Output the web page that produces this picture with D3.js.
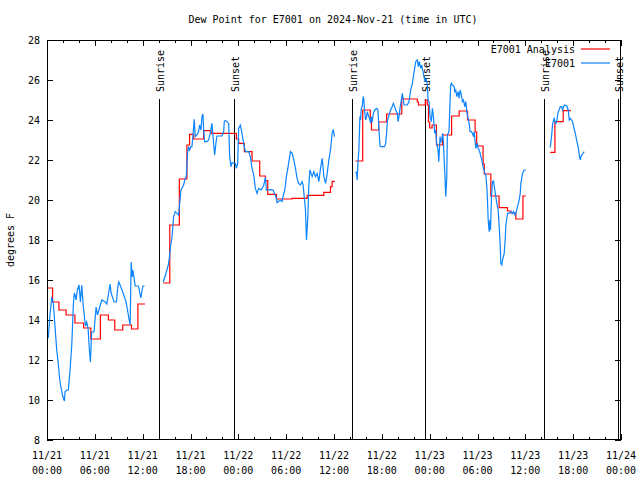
<!DOCTYPE html>
<html>
<head>
<meta charset="utf-8">
<script src="https://cdn.jsdelivr.net/npm/d3@7"></script>
<style>
  html, body { margin: 0; padding: 0; background: #fff; }
  text { font-family: "DejaVu Sans Mono", monospace; font-size: 10px; fill: #000; }
</style>
</head>
<body>
<svg id="chart" width="640" height="480"></svg>
<script>
// ---------------- data ----------------
const chartTitle = "Dew Point for E7001 on 2024-Nov-21 (time in UTC)";
const yLabel = "degrees F";
const seriesNames = ["E7001 Analysis", "E7001"];
const startUTC = Date.UTC(2024, 10, 21, 0, 0);
const endUTC = Date.UTC(2024, 10, 24, 0, 0);
const yTicks = [8, 10, 12, 14, 16, 18, 20, 22, 24, 26, 28];

// hours since 11/21 00:00 UTC; null marks a gap
const analysisHours = [
  0, 0.7, 1.5, 2.4, 3.5, 4.6, 5.5, 6.7, 7.7, 8.5, 9.5, 10.6, 11.4, 12.3, null,
  14.58, 15.4, 16.6, 17.55, 17.88, 18.39, 19.64, 20.57, 23.75, 24.04, 24.75, 25.72, 26.68, 27.4, 27.69, 28.78, 30.74, 32.63, 34.72, 35.56, 35.77, 36.1, null,
  38.7, 39.6, 40.55, 40.7, 41.6, 42.6, 44.5, 46.45, 46.6, 47.45, 47.7, 47.85, 48.0, 48.3, 48.85, 49.6, 50.75, 51.7, 52.75, 53.7, 53.9, 54.7, 54.85, 55.67, 56.71, 57.76, 58.2, 58.81, 59.7, 60.07, null,
  63.12, 63.71, 64.75, 65.72
];
const analysisValues = [
  15.6, 14.9, 14.5, 14.25, 13.85, 13.6, 13.05, 14.25, 14.0, 13.5, 13.75, 13.55, 14.8, 14.8, null,
  15.85, 18.75, 21.05, 22.75, 23.28, 23.05, 23.47, 23.33, 23.05, 22.83, 22.42, 21.95, 21.2, 20.97, 20.28, 20.05, 20.08, 20.23, 20.38, 20.67, 20.93, 20.93, null,
  21.95, 24.5, 24.0, 23.5, 23.9, 24.3, 25.05, 24.9, 24.75, 25.0, 24.75, 23.9, 23.6, 23.75, 22.75, 23.25, 24.2, 24.45, 24.0, 23.4, 22.7, 21.8, 21.3, 20.2, 19.62, 19.45, 19.35, 19.05, 20.2, 20.2, null,
  22.38, 23.92, 24.47, 24.47
];

const obsHours = [
  0, 0.17, 0.38, 0.59, 0.71, 0.8, 1.0, 1.22, 1.42, 1.6, 1.72, 1.97, 2.18, 2.26, 2.47, 2.68, 2.89, 3.1, 3.31, 3.43, 3.55, 3.64, 3.81, 4.02, 4.19, 4.36, 4.52, 4.82, 4.98, 5.15, 5.32, 5.44, 5.61, 5.9, 6.16, 6.33, 6.62, 6.87, 7.3, 7.5, 7.92, 8.04, 8.42, 8.7, 8.88, 9.0, 9.17, 9.59, 9.92, 10.1, 10.26, 10.43, 10.56, 10.68, 10.77, 11.06, 11.48, 11.6, 11.77, 12.02, 12.23, null,
  14.58, 14.9, 15.25, 15.54, 15.67, 15.88, 16.09, 16.3, 16.5, 16.63, 16.8, 16.92, 17.13, 17.34, 17.47, 17.63, 17.76, 17.89, 18.05, 18.18, 18.3, 18.47, 18.6, 18.81, 19.02, 19.14, 19.31, 19.44, 19.56, 19.65, 19.77, 20.06, 20.27, 20.48, 20.69, 20.9, 21.03, 21.24, 21.32, 21.95, 22.16, 22.24, 22.37, 22.58, 22.79, 22.91, 23.08, 23.21, 23.63, 23.75, 23.92, 24.04, 24.25, 24.46, 24.67, 24.88, 25.3, 25.51, 25.72, 25.93, 26.14, 26.35, 26.56, 26.85, 26.98, 27.19, 27.4, 27.52, 28.02, 28.36, 28.53, 28.78, 28.86, 29.28, 29.49, 29.62, 29.83, 30.03, 30.24, 30.54, 30.75, 30.96, 31.17, 31.37, 31.58, 31.79, 32.0, 32.13, 32.3, 32.42, 32.55, 32.72, 32.84, 32.97, 33.13, 33.26, 33.47, 33.68, 33.89, 34.1, 34.31, 34.52, 34.73, 34.94, 35.15, 35.35, 35.56, 35.77, 35.9, 36.07, null,
  38.71, 38.83, 38.91, 39.0, 39.12, 39.25, 39.33, 39.42, 39.54, 39.67, 39.75, 39.84, 39.96, 40.09, 40.17, 40.3, 40.51, 40.59, 40.67, 40.8, 40.93, 41.01, 41.13, 41.34, 41.51, 41.64, 41.76, 41.85, 42.35, 42.48, 42.6, 42.68, 42.89, 43.1, 43.31, 43.44, 43.61, 43.73, 43.94, 44.03, 44.15, 44.28, 44.44, 44.57, 44.7, 44.78, 45.2, 45.41, 45.62, 45.83, 45.95, 46.12, 46.25, 46.45, 46.58, 46.71, 46.87, 47.0, 47.13, 47.29, 47.42, 47.54, 47.71, 47.8, 47.92, 48.05, 48.21, 48.34, 48.47, 48.63, 48.76, 48.88, 49.05, 49.14, 49.22, 49.3, 49.39, 49.51, 49.64, 49.72, 49.89, 50.02, 50.14, 50.22, 50.43, 50.56, 50.64, 50.73, 50.85, 51.06, 51.15, 51.27, 51.4, 51.57, 51.69, 51.82, 51.98, 52.11, 52.24, 52.4, 52.53, 52.65, 52.82, 52.95, 53.07, 53.24, 53.37, 53.49, 53.58, 53.7, 53.79, 53.99, 54.08, 54.2, 54.33, 54.41, 54.5, 54.62, 54.75, 54.83, 54.92, 55.04, 55.17, 55.25, 55.34, 55.46, 55.55, 55.63, 55.75, 55.88, 56.01, 56.17, 56.3, 56.42, 56.59, 56.72, 56.84, 56.93, 57.05, 57.14, 57.35, 57.47, 57.56, 57.77, 57.97, 58.18, 58.39, 58.52, 58.69, 58.81, 59.02, 59.23, 59.36, 59.44, 59.65, 59.86, 60.07, null,
  63.12, 63.29, 63.41, 63.54, 63.62, 63.71, 63.83, 63.96, 64.12, 64.25, 64.38, 64.54, 64.67, 64.8, 64.96, 65.21, 65.38, 65.51, 65.63, 65.8, 65.93, 66.05, 66.22, 66.35, 66.47, 66.64, 66.76, 66.89, 66.97, 67.18, 67.39
];
const obsValues = [
  13.25, 13.15, 14.3, 15.1, 15.0, 14.8, 13.7, 12.5, 11.8, 11.0, 10.7, 10.2, 9.95, 10.4, 10.5, 10.5, 11.5, 12.7, 14.8, 15.35, 15.2, 15.0, 15.5, 15.75, 14.9, 15.75, 14.8, 13.7, 13.9, 13.6, 12.5, 11.9, 13.4, 13.4, 14.65, 14.25, 14.65, 15.0, 14.9, 14.8, 15.8, 15.35, 14.9, 14.9, 15.65, 15.9, 15.75, 15.3, 14.9, 14.5, 14.1, 13.75, 16.9, 16.15, 16.5, 15.7, 15.7, 15.45, 15.1, 15.7, 15.7, null,
  15.9, 16.3, 16.8, 17.8, 18.1, 19.17, 19.42, 19.33, 19.25, 19.75, 20.5, 20.58, 20.75, 21.08, 21.17, 22.33, 22.67, 22.5, 22.67, 22.67, 23.17, 24.03, 23.17, 23.25, 23.42, 23.75, 23.5, 24.17, 24.3, 23.5, 22.92, 22.92, 23.0, 23.33, 23.83, 22.83, 22.25, 23.0, 23.2, 23.2, 23.42, 23.92, 23.97, 23.92, 23.83, 22.17, 21.67, 21.87, 21.83, 21.58, 21.83, 23.58, 23.75, 23.33, 22.83, 22.42, 22.42, 22.17, 21.58, 21.25, 20.58, 20.33, 20.58, 20.5, 20.58, 20.75, 21.13, 20.5, 20.52, 20.5, 20.33, 20.08, 19.87, 20.0, 19.92, 20.2, 20.5, 21.17, 21.67, 22.42, 22.33, 22.0, 21.58, 21.08, 20.83, 20.75, 20.92, 20.75, 20.0, 19.5, 18.0, 19.17, 20.67, 21.5, 21.33, 21.17, 21.42, 21.17, 21.33, 20.92, 21.58, 22.08, 21.17, 20.83, 21.33, 22.0, 22.5, 23.33, 23.53, 23.17, null,
  21.42, 21.33, 21.0, 21.83, 22.5, 24.17, 24.0, 24.58, 24.67, 25.17, 25.0, 24.42, 24.0, 24.17, 24.42, 24.25, 24.0, 23.83, 24.17, 23.92, 24.33, 24.42, 24.5, 24.58, 24.5, 23.5, 22.75, 22.67, 22.67, 22.83, 23.33, 23.92, 24.25, 24.5, 24.67, 24.83, 24.67, 24.5, 24.33, 23.92, 24.17, 24.58, 25.0, 25.33, 25.0, 24.75, 24.75, 24.92, 25.5, 25.83, 26.17, 26.58, 26.92, 27.0, 26.67, 26.92, 26.58, 26.75, 26.5, 26.17, 25.92, 26.08, 25.75, 25.0, 24.92, 24.17, 23.92, 24.58, 24.17, 23.33, 23.5, 22.83, 22.5, 21.92, 22.5, 23.17, 22.92, 23.0, 23.33, 22.92, 21.42, 20.17, 21.08, 23.25, 23.42, 25.0, 25.75, 25.83, 25.75, 25.67, 25.42, 25.5, 25.17, 25.42, 25.08, 25.5, 25.25, 24.92, 25.0, 24.67, 24.92, 24.42, 24.08, 23.83, 23.42, 23.42, 23.33, 23.17, 23.42, 22.92, 22.58, 22.83, 22.58, 22.5, 22.33, 22.17, 22.08, 21.83, 21.58, 21.5, 21.33, 21.25, 20.67, 20.0, 19.0, 18.42, 19.0, 18.5, 20.17, 20.92, 20.95, 20.5, 20.17, 19.83, 19.5, 18.67, 17.83, 16.83, 16.75, 17.0, 17.33, 18.0, 18.75, 19.33, 19.33, 19.42, 19.33, 19.42, 19.25, 19.33, 19.67, 20.0, 20.33, 20.83, 21.33, 21.5, 21.5, null,
  22.63, 23.17, 23.75, 24.0, 24.08, 23.92, 23.83, 24.0, 24.42, 24.5, 24.67, 24.67, 24.5, 24.67, 24.75, 24.7, 24.5, 24.0, 24.08, 24.0, 23.92, 23.67, 23.42, 23.17, 22.92, 22.63, 22.25, 22.0, 22.17, 22.3, 22.42
];

const sunHours = [14.07, 23.5, 38.29, 47.41, 62.33, 71.63];
const sunLabels = ["Sunrise", "Sunset", "Sunrise", "Sunset", "Sunrise", "Sunset"];

const colors = { analysis: "#ff0000", obs: "#0a84ff" };

// ---------------- chart ----------------
const svg = d3.select("#chart");
const margin = { left: 47, right: 19, top: 40, bottom: 40 };
const W = 640, H = 480;
const x = d3.scaleUtc().domain([new Date(startUTC), new Date(endUTC)]).range([margin.left, W - margin.right]);
const y = d3.scaleLinear().domain([8, 28]).range([H - margin.bottom, margin.top]);
const toDate = h => new Date(startUTC + h * 3600e3);

// title
svg.append("text").attr("x", 333).attr("y", 23).attr("text-anchor", "middle").text(chartTitle);

// y label
svg.append("text").attr("transform", "translate(14,240) rotate(-90)").attr("text-anchor", "middle").text(yLabel);

const majorX = d3.utcHour.every(6).range(new Date(startUTC), new Date(endUTC + 1));
const minorX = d3.utcHour.every(2).range(new Date(startUTC), new Date(endUTC + 1));

// axes (gnuplot-style inward ticks)
const gAxes = svg.append("g").attr("shape-rendering", "crispEdges");
const bottomAxis = d3.axisBottom(x).tickValues(minorX).tickSize(-3).tickFormat("");
const topAxis = d3.axisTop(x).tickValues(minorX).tickSize(-3).tickFormat("");
gAxes.append("g").attr("transform", `translate(0,${H - margin.bottom})`).call(bottomAxis).call(g => g.select(".domain").remove());
gAxes.append("g").attr("transform", `translate(0,${margin.top})`).call(topAxis).call(g => g.select(".domain").remove());
gAxes.append("g").attr("transform", `translate(0,${H - margin.bottom})`).call(d3.axisBottom(x).tickValues(majorX).tickSize(-6).tickFormat(""))
  .call(g => g.select(".domain").remove());
gAxes.append("g").attr("transform", `translate(0,${margin.top})`).call(d3.axisTop(x).tickValues(majorX).tickSize(-6).tickFormat(""))
  .call(g => g.select(".domain").remove());
gAxes.append("g").attr("transform", `translate(${margin.left},0)`).call(d3.axisLeft(y).tickValues(yTicks).tickSize(-6).tickFormat(""))
  .call(g => g.select(".domain").remove());
gAxes.append("g").attr("transform", `translate(${W - margin.right},0)`).call(d3.axisRight(y).tickValues(yTicks).tickSize(-6).tickFormat(""))
  .call(g => g.select(".domain").remove());
gAxes.selectAll("line").attr("stroke", "#000");

// x tick labels (two lines)
const fmtD = d3.utcFormat("%m/%d"), fmtT = d3.utcFormat("%H:%M");
const xl = svg.append("g");
majorX.forEach(d => {
  const t = xl.append("text").attr("x", x(d)).attr("y", 459).attr("text-anchor", "middle");
  t.append("tspan").attr("x", x(d)).text(fmtD(d));
  t.append("tspan").attr("x", x(d)).attr("dy", 15).text(fmtT(d));
});
// y tick labels
yTicks.forEach(v => {
  svg.append("text").attr("x", 40).attr("y", y(v) + 4).attr("text-anchor", "end").text(v);
});

// sunrise/sunset markers
sunHours.forEach((h, i) => {
  const xp = Math.round(x(toDate(h))) + 0.5;
  svg.append("line").attr("x1", xp).attr("x2", xp).attr("y1", y(25.05)).attr("y2", y(8))
    .attr("stroke", "#000").attr("stroke-width", 1);
  svg.append("text").attr("transform", `translate(${xp + 4},92) rotate(-90)`).attr("text-anchor", "start").text(sunLabels[i]);
});

// series
const clip = svg.append("clipPath").attr("id", "clip").append("rect")
  .attr("x", margin.left).attr("y", margin.top).attr("width", W - margin.left - margin.right).attr("height", H - margin.top - margin.bottom);

const analysisData = analysisHours.map((h, i) => ({ h, v: analysisValues[i] }));
const obsData = obsHours.map((h, i) => ({ h, v: obsValues[i] }));

const stepLine = d3.line().defined(d => d.h !== null && d.v !== null)
  .x(d => x(toDate(d.h))).y(d => y(d.v)).curve(d3.curveStepAfter);
const line = d3.line().defined(d => d.h !== null && d.v !== null)
  .x(d => x(toDate(d.h))).y(d => y(d.v));

svg.append("path").attr("d", stepLine(analysisData)).attr("fill", "none")
  .attr("stroke", colors.analysis).attr("stroke-width", 1.2).attr("clip-path", "url(#clip)");
svg.append("path").attr("d", line(obsData)).attr("fill", "none")
  .attr("stroke", colors.obs).attr("stroke-width", 1.2).attr("clip-path", "url(#clip)");

// frame
svg.append("rect").attr("x", margin.left + 0.5).attr("y", margin.top + 0.5)
  .attr("width", W - margin.left - margin.right - 1).attr("height", H - margin.top - margin.bottom - 1)
  .attr("fill", "none").attr("stroke", "#000").attr("shape-rendering", "crispEdges");

// legend
const legendItems = [
  { name: seriesNames[0], color: colors.analysis, yy: 49 },
  { name: seriesNames[1], color: colors.obs, yy: 63 }
];
legendItems.forEach(it => {
  svg.append("text").attr("x", 575).attr("y", it.yy + 4).attr("text-anchor", "end").text(it.name);
  svg.append("line").attr("x1", 581).attr("x2", 610).attr("y1", it.yy).attr("y2", it.yy)
    .attr("stroke", it.color).attr("stroke-width", 1.2);
});
</script>
</body>
</html>
